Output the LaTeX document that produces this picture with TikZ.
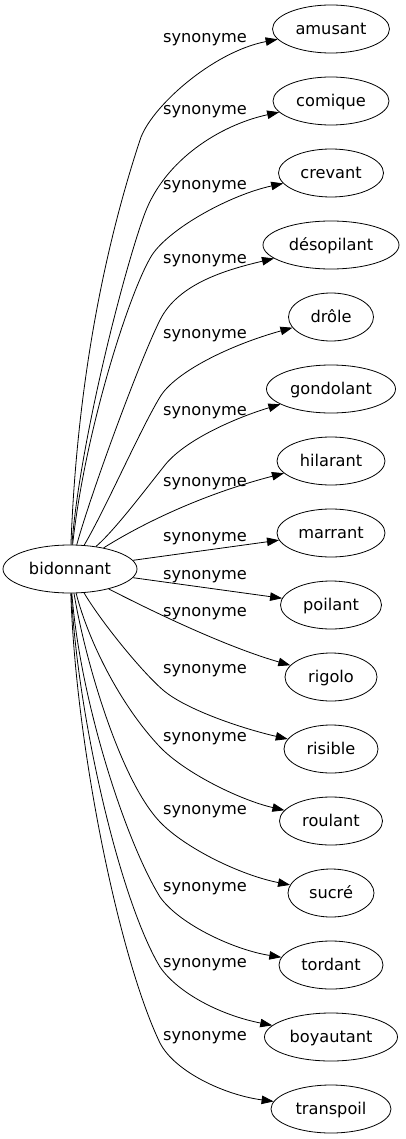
\documentclass[tikz,border=0pt]{standalone}
\usepackage{fontspec}
\setmainfont{DejaVu Sans}
\usetikzlibrary{shapes.geometric,arrows.meta}
\newcommand\wfont{\fontsize{16.2}{19}\selectfont}
\tikzset{
  word/.style={draw, ellipse, line width=0.8pt, inner sep=2pt, minimum height=48pt,
               text height=11.5pt, text depth=0pt, font=\wfont},
  lab/.style={font=\wfont, inner sep=0pt, anchor=base},
  link/.style={draw, line width=0.8pt, -{Triangle[length=12pt,width=8.5pt]}}
}
\begin{document}
\begin{tikzpicture}[x=1pt,y=-1pt]
\useasboundingbox (0,0) rectangle (405,1139);
\node[word, minimum width=134pt] (b) at (70,569) {bidonnant};
\node[word, minimum width=117pt] (amusant) at (331,29) {amusant};
\node[word, minimum width=116pt] (comique) at (331,101) {comique};
\node[word, minimum width=105pt] (crevant) at (331,173) {crevant};
\node[word, minimum width=136pt] (desopilant) at (331,245) {désopilant};
\node[word, minimum width=85pt] (drole) at (331,317) {drôle};
\node[word, minimum width=129pt] (gondolant) at (331,389) {gondolant};
\node[word, minimum width=108pt] (hilarant) at (331,461) {hilarant};
\node[word, minimum width=108pt] (marrant) at (331,533) {marrant};
\node[word, minimum width=101pt] (poilant) at (331,605) {poilant};
\node[word, minimum width=92pt] (rigolo) at (331,677) {rigolo};
\node[word, minimum width=94pt] (risible) at (331,749) {risible};
\node[word, minimum width=103pt] (roulant) at (331,821) {roulant};
\node[word, minimum width=86pt] (sucre) at (331,893) {sucré};
\node[word, minimum width=104pt] (tordant) at (331,965) {tordant};
\node[word, minimum width=133pt] (boyautant) at (331,1037) {boyautant};
\node[word, minimum width=120pt] (transpoil) at (331,1109) {transpoil};

\node[lab] (l1) at (205,42.5) {synonyme};
\node[lab] (l2) at (205,114.5) {synonyme};
\node[lab] (l3) at (205,189.5) {synonyme};
\node[lab] (l4) at (205,263.5) {synonyme};
\node[lab] (l5) at (205,338.5) {synonyme};
\node[lab] (l6) at (205,415.5) {synonyme};
\node[lab] (l7) at (205,486.5) {synonyme};
\node[lab] (l8) at (205,541.5) {synonyme};
\node[lab] (l9) at (205,579.5) {synonyme};
\node[lab] (l10) at (205,616.5) {synonyme};
\node[lab] (l11) at (205,673.5) {synonyme};
\node[lab] (l12) at (205,741.5) {synonyme};
\node[lab] (l13) at (205,814.5) {synonyme};
\node[lab] (l14) at (205,891.5) {synonyme};
\node[lab] (l15) at (205,967.5) {synonyme};
\node[lab] (l16) at (205,1040.5) {synonyme};

\draw[link] (b) .. controls (78,360) and (112,225) .. (140,140) .. controls (150,108) and (212,52) .. (amusant);
\draw[link] (b) .. controls (80,440) and (125,266) .. (145,213) .. controls (165,160) and (220,125) .. (comique);
\draw[link] (b) .. controls (85,430) and (130,290) .. (152,255) .. controls (170,228) and (230,195) .. (crevant);
\draw[link] (b) .. controls (92,490) and (140,360) .. (160,320) .. controls (178,284) and (225,270) .. (desopilant);
\draw[link] (b) .. controls (105,510) and (140,430) .. (160,397) .. controls (175,372) and (230,345) .. (drole);
\draw[link] (b) .. controls (115,530) and (145,490) .. (165,465) .. controls (185,440) and (235,418) .. (gondolant);
\draw[link] (b) .. controls (140,525) and (200,495) .. (hilarant);
\draw[link] (b) -- (marrant);
\draw[link] (b) -- (poilant);
\draw[link] (b) .. controls (140,605) and (220,645) .. (rigolo);
\draw[link] (b) .. controls (100,620) and (140,670) .. (163,690) .. controls (185,709) and (240,728) .. (risible);
\draw[link] (b) .. controls (88,640) and (120,705) .. (160,747) .. controls (185,773) and (240,800) .. (roulant);
\draw[link] (b) .. controls (85,660) and (120,780) .. (160,822) .. controls (185,848) and (240,875) .. (sucre);
\draw[link] (b) .. controls (80,700) and (125,840) .. (160,897) .. controls (180,925) and (235,950) .. (tordant);
\draw[link] (b) .. controls (78,720) and (120,900) .. (160,967) .. controls (178,993) and (220,1015) .. (boyautant);
\draw[link] (b) .. controls (76,750) and (120,960) .. (160,1043) .. controls (175,1072) and (225,1095) .. (transpoil);
\end{tikzpicture}
\end{document}
